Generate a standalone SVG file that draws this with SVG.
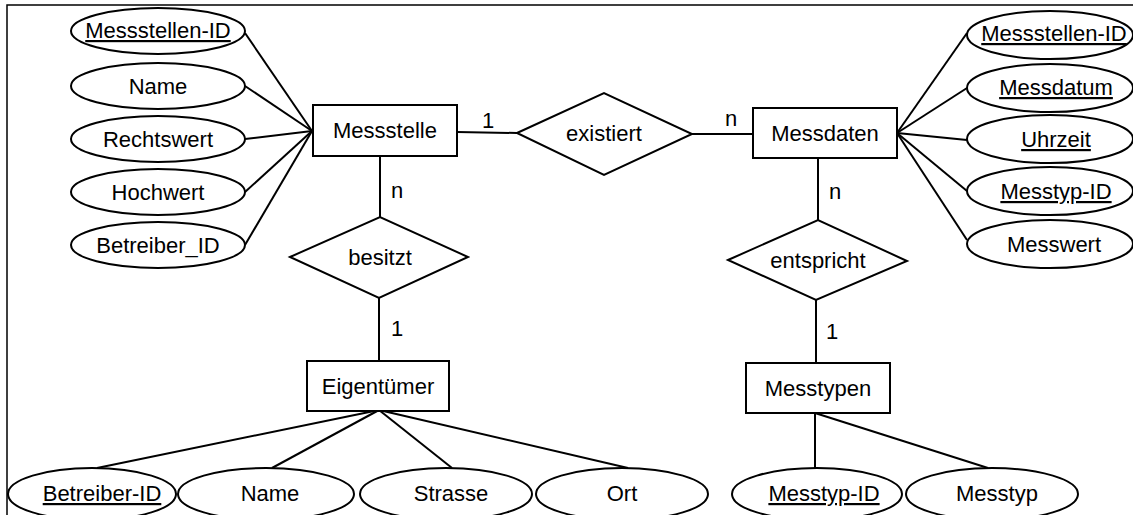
<svg xmlns="http://www.w3.org/2000/svg" width="1133" height="515" viewBox="0 0 1133 515">
<style>
.s{fill:#fff;stroke:#000;stroke-width:2}
.c{stroke:#000;stroke-width:2;fill:none}
text{font-family:"Liberation Sans",Arial,sans-serif;font-size:22px;fill:#000;text-anchor:middle}
.u{text-decoration:underline}
.lb{text-anchor:start}
</style>
<rect x="0" y="0" width="1133" height="515" fill="#fff"/>
<rect x="7" y="5" width="1140" height="530" fill="none" stroke="#000" stroke-width="1.5"/>
<g id="connectors">
<line class="c" x1="245" y1="33" x2="312" y2="131"/>
<line class="c" x1="245" y1="86" x2="312" y2="131"/>
<line class="c" x1="245" y1="139" x2="312" y2="131"/>
<line class="c" x1="245" y1="192" x2="312" y2="131"/>
<line class="c" x1="245" y1="245" x2="312" y2="131"/>
<line class="c" x1="457" y1="132" x2="517" y2="133"/>
<line class="c" x1="692" y1="134" x2="753" y2="134"/>
<line class="c" x1="380" y1="156" x2="380" y2="217"/>
<line class="c" x1="379" y1="298" x2="379" y2="361"/>
<line class="c" x1="379" y1="410" x2="97" y2="468"/>
<line class="c" x1="379" y1="410" x2="272" y2="468"/>
<line class="c" x1="379" y1="410" x2="452" y2="468"/>
<line class="c" x1="379" y1="410" x2="628" y2="468"/>
<line class="c" x1="897" y1="133" x2="967" y2="33"/>
<line class="c" x1="897" y1="133" x2="967" y2="88"/>
<line class="c" x1="897" y1="133" x2="967" y2="140"/>
<line class="c" x1="897" y1="133" x2="967" y2="191"/>
<line class="c" x1="897" y1="133" x2="967" y2="240"/>
<line class="c" x1="818" y1="158" x2="818" y2="220"/>
<line class="c" x1="816" y1="300" x2="816" y2="363"/>
<line class="c" x1="815" y1="413" x2="815" y2="468"/>
<line class="c" x1="815" y1="413" x2="988" y2="468"/>
<text class="lb" x="482" y="128">1</text>
<text class="lb" x="725" y="126">n</text>
<text class="lb" x="391" y="198">n</text>
<text class="lb" x="391" y="336">1</text>
<text class="lb" x="829" y="199">n</text>
<text class="lb" x="826" y="339">1</text>
</g>
<g id="attr-l-messstellen-id"><ellipse class="s" cx="158" cy="31" rx="87" ry="23"/><text class="u" x="158" y="38">Messstellen-ID</text></g>
<g id="attr-l-name"><ellipse class="s" cx="158" cy="86" rx="87" ry="23"/><text x="158" y="94">Name</text></g>
<g id="attr-l-rechtswert"><ellipse class="s" cx="158" cy="139" rx="87" ry="23"/><text x="158" y="147">Rechtswert</text></g>
<g id="attr-l-hochwert"><ellipse class="s" cx="158" cy="192" rx="87" ry="23"/><text x="158" y="200">Hochwert</text></g>
<g id="attr-l-betreiber"><ellipse class="s" cx="158" cy="245" rx="87" ry="23"/><text x="158" y="253">Betreiber_ID</text></g>
<g id="messstelle"><rect class="s" x="313" y="105" width="144" height="51"/><text x="385" y="138">Messstelle</text></g>
<g id="existiert"><polygon class="s" points="517,133 604,93 692,134 604,175"/><text x="604" y="141">existiert</text></g>
<g id="messdaten"><rect class="s" x="753" y="108" width="144" height="50"/><text x="825" y="141">Messdaten</text></g>
<g id="besitzt"><polygon class="s" points="290,257 380,217 468,257 379,298"/><text x="380" y="265">besitzt</text></g>
<g id="eigentuemer"><rect class="s" x="307" y="361" width="142" height="50"/><text x="378" y="394">Eigentümer</text></g>
<g id="entspricht"><polygon class="s" points="728,260 818,220 907,261 816,300"/><text x="818" y="268">entspricht</text></g>
<g id="messtypen"><rect class="s" x="746" y="363" width="144" height="50"/><text x="818" y="396">Messtypen</text></g>
<g id="attr-r-messstellen-id"><ellipse class="s" cx="1050" cy="35" rx="83" ry="24"/><text class="u" x="1054" y="41">Messstellen-ID</text></g>
<g id="attr-r-messdatum"><ellipse class="s" cx="1050" cy="88" rx="83" ry="24"/><text class="u" x="1056" y="95">Messdatum</text></g>
<g id="attr-r-uhrzeit"><ellipse class="s" cx="1050" cy="139" rx="83" ry="24"/><text class="u" x="1056" y="147">Uhrzeit</text></g>
<g id="attr-r-messtyp-id"><ellipse class="s" cx="1050" cy="191" rx="83" ry="24"/><text class="u" x="1056" y="199">Messtyp-ID</text></g>
<g id="attr-r-messwert"><ellipse class="s" cx="1050" cy="244" rx="83" ry="24"/><text x="1054" y="252">Messwert</text></g>
<g id="attr-b-betreiber-id"><ellipse class="s" cx="92" cy="494" rx="84" ry="26"/><text class="u" x="102" y="501">Betreiber-ID</text></g>
<g id="attr-b-name"><ellipse class="s" cx="266" cy="494" rx="88" ry="26"/><text x="270" y="501">Name</text></g>
<g id="attr-b-strasse"><ellipse class="s" cx="446" cy="494" rx="86" ry="26"/><text x="451" y="501">Strasse</text></g>
<g id="attr-b-ort"><ellipse class="s" cx="622" cy="494" rx="86" ry="26"/><text x="622" y="501">Ort</text></g>
<g id="attr-b-messtyp-id"><ellipse class="s" cx="817" cy="494" rx="85" ry="26"/><text class="u" x="824" y="501">Messtyp-ID</text></g>
<g id="attr-b-messtyp"><ellipse class="s" cx="992" cy="494" rx="86" ry="26"/><text x="997" y="501">Messtyp</text></g>
</svg>
